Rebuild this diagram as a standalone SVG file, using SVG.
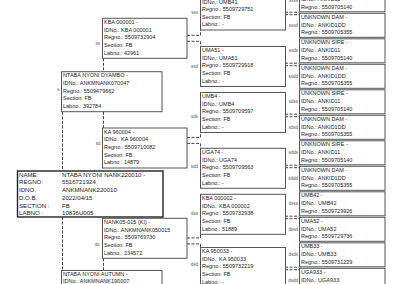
<svg xmlns="http://www.w3.org/2000/svg" width="400" height="284" viewBox="0 0 400 284">
<style>
rect{fill:#fff;stroke:#555;stroke-width:1}
rect.main{stroke:#222;stroke-width:1.4}
text{font-family:"Liberation Sans",Arial,sans-serif;font-size:5.5px;fill:#222}
text.m{font-size:6.1px}
text.l{font-size:4.5px;fill:#555;text-anchor:end}
.con path{fill:none;stroke:#444;stroke-width:1;stroke-dasharray:3 1.5}
</style>
<rect x="0" y="0" width="400" height="284" style="fill:#fff;stroke:none"/>
<g class="con" id="connectors">
<path d="M62.5,112 V171 M62.5,217 V270.5"/>
<path d="M103.5,58.3 V71.7 M103.5,111.7 V128 M103.5,258.3 V270.5"/>
<path d="M187,35.3 H200.5 V30 M187,41.3 H200.5 V46.5"/>
<path d="M187,137.4 H200.5 V132.5 M187,143.4 H200.5 V148.3"/>
<path d="M187,237.9 H200.5 V234.3 M187,243.9 H200.5 V247.5"/>
<path d="M285,12.2 H299.5 M285,14.7 H299.5 M285,63.2 H299.5 M285,65.7 H299.5 M285,114.2 H299.5 M285,116.7 H299.5 M285,165.2 H299.5 M285,167.7 H299.5 M285,216.2 H299.5 M285,218.7 H299.5 M285,267.2 H299.5 M285,269.7 H299.5"/>
</g>
<g id="main">
<rect class="main" x="17.5" y="171" width="145.5" height="46"/>
<text class="m" x="19" y="176.5">NAME:</text><text class="m" x="62" y="176.5">NTABA NYONI NANK220010 -</text>
<text class="m" x="19" y="184.2">REGNO:</text><text class="m" x="62" y="184.2">5516721924</text>
<text class="m" x="19" y="192">IDNO.</text><text class="m" x="62" y="192">ANKMNANK220010</text>
<text class="m" x="19" y="199.7">D.O.B.</text><text class="m" x="62" y="199.7">2022/04/15</text>
<text class="m" x="19" y="207.5">SECTION :</text><text class="m" x="62" y="207.5">FB</text>
<text class="m" x="19" y="215.2">LABNO :</text><text class="m" x="62" y="215.2">10836U005</text>
</g>
<g id="s">
<text class="l" x="59.5" y="90.5">s</text>
<rect x="61.5" y="71.7" width="100.5" height="40"/>
<text x="63" y="77.2">NTABA NYONI DYAMBO -</text>
<text x="63" y="84.9">IDNo.: ANKMNANK070047</text>
<text x="63" y="92.6">Regno.: 5509479662</text>
<text x="63" y="100.3">Section: FB</text>
<text x="63" y="108">Labno.: 392784</text>
</g>
<g id="d">
<rect x="61.5" y="270.5" width="100.5" height="40"/>
<text x="63" y="276">NTABA NYONI AUTUMN -</text>
<text x="63" y="283.4">IDNo.: ANKMNANK190007</text>
</g>
<g id="ss">
<text class="l" x="100" y="44.5">ss</text>
<rect x="102.5" y="18.3" width="84.5" height="40"/>
<text x="104" y="23.8">KBA 000001 -</text>
<text x="104" y="31.5">IDNo.: KBA 000001</text>
<text x="104" y="39.2">Regno.: 5509732904</text>
<text x="104" y="46.9">Section: FB</text>
<text x="104" y="54.6">Labno.: 42961</text>
</g>
<g id="sd">
<text class="l" x="100.5" y="144.5">sd</text>
<rect x="102.5" y="128" width="84.5" height="40"/>
<text x="104" y="133.5">KA  960004 -</text>
<text x="104" y="141.2">IDNo.: KA  960004</text>
<text x="104" y="148.9">Regno.: 5509710082</text>
<text x="104" y="156.6">Section: FB</text>
<text x="104" y="164.3">Labno.: 14879</text>
</g>
<g id="ds">
<text class="l" x="99.5" y="245.5">ds</text>
<rect x="102.5" y="218.3" width="84.5" height="40"/>
<text x="104" y="223.8">NANK05-015 (KI) -</text>
<text x="104" y="231.5">IDNo.: ANKMNANK050015</text>
<text x="104" y="239.2">Regno.: 5509769730</text>
<text x="104" y="246.9">Section: FB</text>
<text x="104" y="254.6">Labno.: 234572</text>
</g>
<g id="sss">
<text class="l" x="198" y="14">sss</text>
<rect x="200.5" y="-10" width="85" height="40"/>
<text x="202" y="3.6">IDNo.: UMB41</text>
<text x="202" y="11.1">Regno.: 5509729751</text>
<text x="202" y="18.7">Section: FB</text>
<text x="202" y="26.3">Labno.: -</text>
</g>
<g id="ssd">
<text class="l" x="198" y="67.5">ssd</text>
<rect x="200.5" y="46.5" width="85" height="40"/>
<text x="202" y="52">UMA51 -</text>
<text x="202" y="59.7">IDNo.: UMA51</text>
<text x="202" y="67.4">Regno.: 5509729918</text>
<text x="202" y="75.1">Section: FB</text>
<text x="202" y="82.8">Labno.: -</text>
</g>
<g id="sds">
<text class="l" x="198" y="117.5">sds</text>
<rect x="200.5" y="92.5" width="85" height="40"/>
<text x="202" y="98">UMB4 -</text>
<text x="202" y="105.7">IDNo.: UMB4</text>
<text x="202" y="113.4">Regno.: 5509709597</text>
<text x="202" y="121.1">Section: FB</text>
<text x="202" y="128.8">Labno.: -</text>
</g>
<g id="sdd">
<text class="l" x="198" y="167.5">sdd</text>
<rect x="200.5" y="148.3" width="85" height="40"/>
<text x="202" y="153.8">UGA74 -</text>
<text x="202" y="161.5">IDNo.: UGA74</text>
<text x="202" y="169.2">Regno.: 5509709563</text>
<text x="202" y="176.9">Section: FB</text>
<text x="202" y="184.6">Labno.: -</text>
</g>
<g id="dss">
<text class="l" x="198" y="214.5">dss</text>
<rect x="200.5" y="194.3" width="85" height="40"/>
<text x="202" y="199.8">KBA 000002 -</text>
<text x="202" y="207.5">IDNo.: KBA 000002</text>
<text x="202" y="215.2">Regno.: 5509732938</text>
<text x="202" y="222.9">Section: FB</text>
<text x="202" y="230.6">Labno.: 51889</text>
</g>
<g id="dsd">
<text class="l" x="198" y="266">dsd</text>
<rect x="200.5" y="247.5" width="85" height="40"/>
<text x="202" y="253">KA  950033 -</text>
<text x="202" y="260.7">IDNo.: KA  950033</text>
<text x="202" y="268.4">Regno.: 5509732219</text>
<text x="202" y="276.1">Section: FB</text>
<text x="202" y="283.6">Labno.: -</text>
</g>
<g id="ssss">
<text class="l" x="298" y="1.5">ssss</text>
<rect x="299.5" y="-12.2" width="85.5" height="24"/>
<text x="301" y="1.4">IDNo.: ANKID11</text>
<text x="301" y="8.7">Regno.: 5509705140</text>
</g>
<g id="sssd">
<text class="l" x="298" y="26.5">sssd</text>
<rect x="299.5" y="13.3" width="85.5" height="24"/>
<text x="301" y="18.8">UNKNOWN DAM -</text>
<text x="301" y="26.6">IDNo.: ANKID1DD</text>
<text x="301" y="34.4">Regno.: 5509705355</text>
</g>
<g id="ssds">
<text class="l" x="298" y="52">ssds</text>
<rect x="299.5" y="38.8" width="85.5" height="24"/>
<text x="301" y="44.3">UNKNOWN SIRE -</text>
<text x="301" y="52.1">IDNo.: ANKID11</text>
<text x="301" y="59.9">Regno.: 5509705140</text>
</g>
<g id="ssdd">
<text class="l" x="298" y="77.5">ssdd</text>
<rect x="299.5" y="64.3" width="85.5" height="24"/>
<text x="301" y="69.8">UNKNOWN DAM -</text>
<text x="301" y="77.6">IDNo.: ANKID1DD</text>
<text x="301" y="85.4">Regno.: 5509705355</text>
</g>
<g id="sdss">
<text class="l" x="298" y="103">sdss</text>
<rect x="299.5" y="89.8" width="85.5" height="24"/>
<text x="301" y="95.3">UNKNOWN SIRE -</text>
<text x="301" y="103.1">IDNo.: ANKID11</text>
<text x="301" y="110.9">Regno.: 5509705140</text>
</g>
<g id="sdsd">
<text class="l" x="298" y="128.5">sdsd</text>
<rect x="299.5" y="115.3" width="85.5" height="24"/>
<text x="301" y="120.8">UNKNOWN DAM -</text>
<text x="301" y="128.6">IDNo.: ANKID1DD</text>
<text x="301" y="136.4">Regno.: 5509705355</text>
</g>
<g id="sdds">
<text class="l" x="298" y="154">sdds</text>
<rect x="299.5" y="140.8" width="85.5" height="24"/>
<text x="301" y="146.3">UNKNOWN SIRE -</text>
<text x="301" y="154.1">IDNo.: ANKID11</text>
<text x="301" y="161.9">Regno.: 5509705140</text>
</g>
<g id="sddd">
<text class="l" x="298" y="179.5">sddd</text>
<rect x="299.5" y="166.3" width="85.5" height="24"/>
<text x="301" y="171.8">UNKNOWN DAM -</text>
<text x="301" y="179.6">IDNo.: ANKID1DD</text>
<text x="301" y="187.4">Regno.: 5509705355</text>
</g>
<g id="dsss">
<text class="l" x="298" y="205">dsss</text>
<rect x="299.5" y="191.8" width="85.5" height="24"/>
<text x="301" y="197.3">UMB42 -</text>
<text x="301" y="205.1">IDNo.: UMB42</text>
<text x="301" y="212.9">Regno.: 5509729926</text>
</g>
<g id="dssd">
<text class="l" x="298" y="230.5">dssd</text>
<rect x="299.5" y="217.3" width="85.5" height="24"/>
<text x="301" y="222.8">UMA52 -</text>
<text x="301" y="230.6">IDNo.: UMA52</text>
<text x="301" y="238.4">Regno.: 5509729736</text>
</g>
<g id="dsds">
<text class="l" x="298" y="256">dsds</text>
<rect x="299.5" y="242.8" width="85.5" height="24"/>
<text x="301" y="248.3">UMB33 -</text>
<text x="301" y="256.1">IDNo.: UMB33</text>
<text x="301" y="263.9">Regno.: 5509731229</text>
</g>
<g id="dsdd">
<text class="l" x="298" y="281.5">dsdd</text>
<rect x="299.5" y="268.3" width="85.5" height="24"/>
<text x="301" y="273.8">UGA933 -</text>
<text x="301" y="281.6">IDNo.: UGA933</text>
</g>
</svg>
